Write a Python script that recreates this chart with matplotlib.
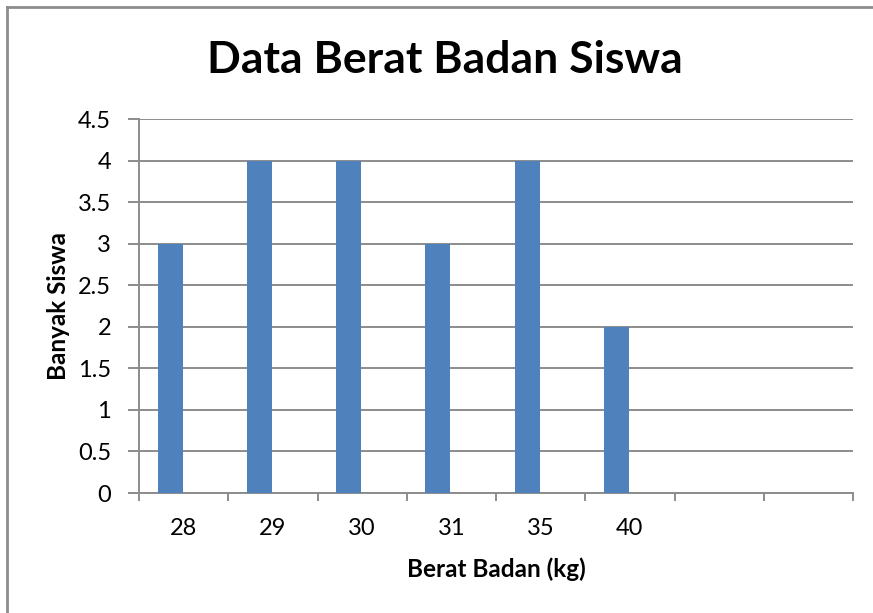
import numpy as np
import matplotlib.pyplot as plt
from matplotlib.lines import Line2D

plt.rcParams['font.family'] = ['Lato', 'DejaVu Sans']

# data
berat = ['28', '29', '30', '31', '35', '40', '', '']
banyak = [3, 4, 4, 3, 4, 2, 0, 0]
yticks = [0, 0.5, 1, 1.5, 2, 2.5, 3, 3.5, 4, 4.5]

W, H = 873, 613
fig = plt.figure(figsize=(W/100, H/100), dpi=100)
ax = fig.add_axes([139/W, 1 - 493/H, (853 - 139)/W, (493 - 119)/H])

x = np.arange(len(berat))
ax.bar(x - 0.15, banyak, width=0.28, color='#4f81bd', zorder=3)

ax.set_xlim(-0.5, len(berat) - 0.5)
ax.set_ylim(0, 4.5)
ax.set_yticks(yticks)
ax.set_yticklabels(['0', '0.5', '1', '1.5', '2', '2.5', '3', '3.5', '4', '4.5'], fontsize=17)
ax.grid(axis='y', color='#8c8c8c', linewidth=1.4, zorder=0)

# tick marks between categories, labels at centres
ax.set_xticks(np.arange(len(berat) + 1) - 0.5)
ax.set_xticklabels([])
ax.set_xticks(x, minor=True)
ax.set_xticklabels(berat, minor=True, fontsize=17)
ax.tick_params(axis='x', which='major', length=6, color='#8c8c8c', width=1.4)
ax.tick_params(axis='x', which='minor', length=0, pad=18)
ax.tick_params(axis='y', length=8, color='#8c8c8c', width=1.4, pad=12)

for s in ['top', 'right']:
    ax.spines[s].set_visible(False)
for s in ['left', 'bottom']:
    ax.spines[s].set_color('#8c8c8c')
    ax.spines[s].set_linewidth(1.4)

ax.set_xlabel('Berat Badan (kg)', fontsize=17.5, fontweight='bold')
ax.set_ylabel('Banyak Siswa', fontsize=17.5, fontweight='bold')
ax.xaxis.set_label_coords(0.5, -0.172)
ax.yaxis.set_label_coords(-0.097, 0.5)

fig.text(445/W, 1 - 60/H, 'Data Berat Badan Siswa', fontsize=32, fontweight='bold',
         ha='center', va='center')

# chart frame
fig.add_artist(Line2D([6.5/W, 1], [1 - 7/H, 1 - 7/H], color='#8c8c8c', linewidth=2))
fig.add_artist(Line2D([6.5/W, 6.5/W], [0, 1 - 7/H], color='#8c8c8c', linewidth=2))

fig.savefig('out.png', dpi=100)
